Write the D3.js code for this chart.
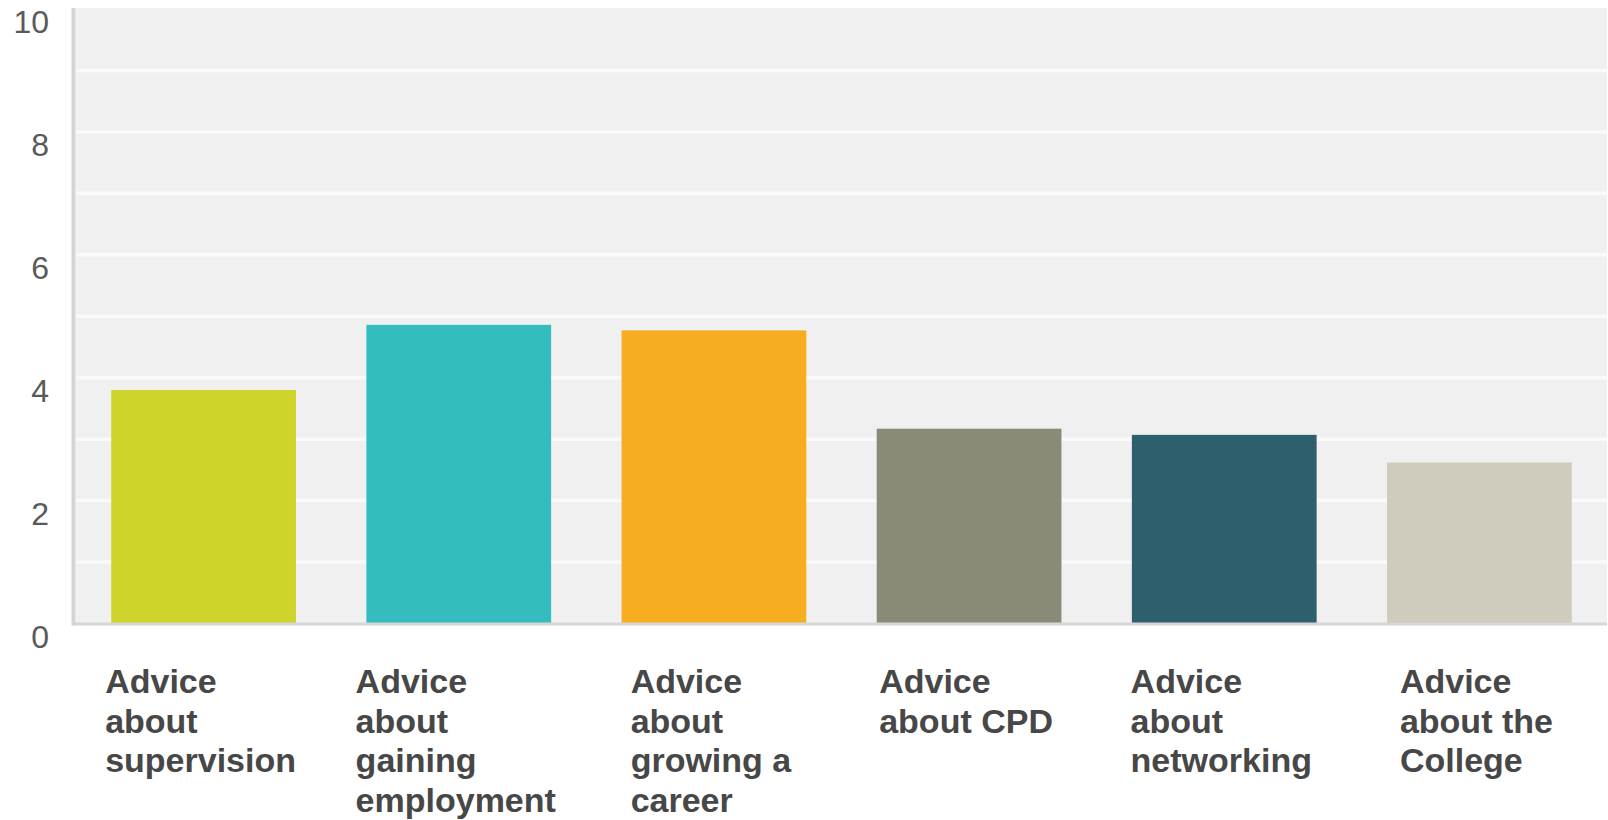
<!DOCTYPE html>
<html>
<head>
<meta charset="utf-8">
<script src="https://cdn.jsdelivr.net/npm/d3@7"></script>
<style>
  html, body { margin: 0; padding: 0; background: #ffffff; }
  svg { display: block; }
  text { font-family: "Liberation Sans", Arial, sans-serif; }
</style>
</head>
<body>
<svg id="chart" width="1608" height="820"></svg>
<script>
// Survey answers: average score per advice topic
const categories = [
  "Advice about supervision",
  "Advice about gaining employment",
  "Advice about growing a career",
  "Advice about CPD",
  "Advice about networking",
  "Advice about the College"
];
// Wrapped label lines for each category
const labelLines = [
  ["Advice", "about", "supervision"],
  ["Advice", "about", "gaining", "employment"],
  ["Advice", "about", "growing a", "career"],
  ["Advice", "about CPD"],
  ["Advice", "about", "networking"],
  ["Advice", "about the", "College"]
];
const values = [3.80, 4.86, 4.77, 3.17, 3.07, 2.62];
const colors = ["#cfd42a", "#33bdbf", "#f6ad1f", "#8a8a78", "#2e5f6c", "#cfccbd"];
const yTicks = [0, 2, 4, 6, 8, 10];
const gridValues = [1, 2, 3, 4, 5, 6, 7, 8, 9];

const svg = d3.select("#chart");
const plot = { left: 76, right: 1607, top: 9, bottom: 623.5 };

const x = d3.scaleBand()
  .domain(categories)
  .range([plot.left, plot.right])
  .paddingInner(0.276)
  .paddingOuter(0.138);

const y = d3.scaleLinear()
  .domain([0, 10])
  .range([plot.bottom, plot.top]);

// plot background
svg.append("rect")
  .attr("x", plot.left).attr("y", plot.top - 1)
  .attr("width", plot.right - plot.left)
  .attr("height", plot.bottom - plot.top + 1)
  .attr("fill", "#f0f0f0");

// horizontal grid lines
svg.append("g")
  .selectAll("line")
  .data(gridValues)
  .join("line")
  .attr("x1", plot.left).attr("x2", plot.right)
  .attr("y1", d => y(d)).attr("y2", d => y(d))
  .attr("stroke", "#fafafa")
  .attr("stroke-width", 3.5);

// bars
svg.append("g")
  .selectAll("rect")
  .data(categories)
  .join("rect")
  .attr("x", d => x(d))
  .attr("width", x.bandwidth())
  .attr("y", (d, i) => y(values[i]))
  .attr("height", (d, i) => y(0) - y(values[i]))
  .attr("fill", (d, i) => colors[i]);

// axis lines
svg.append("line")
  .attr("x1", 73.5).attr("x2", 73.5)
  .attr("y1", plot.top - 1).attr("y2", plot.bottom + 2)
  .attr("stroke", "#d4d4d4").attr("stroke-width", 4);
svg.append("line")
  .attr("x1", 72).attr("x2", plot.right)
  .attr("y1", plot.bottom + 0.5).attr("y2", plot.bottom + 0.5)
  .attr("stroke", "#d6d6d6").attr("stroke-width", 3);

// y tick labels
svg.append("g")
  .selectAll("text")
  .data(yTicks)
  .join("text")
  .attr("x", 49)
  .attr("y", d => y(d) + 24)
  .attr("text-anchor", "end")
  .attr("font-size", 32)
  .attr("fill", "#5a5a5a")
  .text(d => d);

// category labels: left-aligned lines, block centred under each bar
const labelGroup = svg.append("g");
categories.forEach((c, i) => {
  const t = labelGroup.append("text")
    .attr("font-size", 34)
    .attr("font-weight", "bold")
    .attr("fill", "#474747");
  labelLines[i].forEach((line, k) => {
    t.append("tspan")
      .attr("y", 693 + k * 39.6)
      .text(line);
  });
  let maxW = 0;
  t.selectAll("tspan").each(function () {
    maxW = Math.max(maxW, this.getComputedTextLength());
  });
  const left = x(c) + x.bandwidth() / 2 - maxW / 2 - 3;
  t.selectAll("tspan").attr("x", left);
});
</script>
</body>
</html>
